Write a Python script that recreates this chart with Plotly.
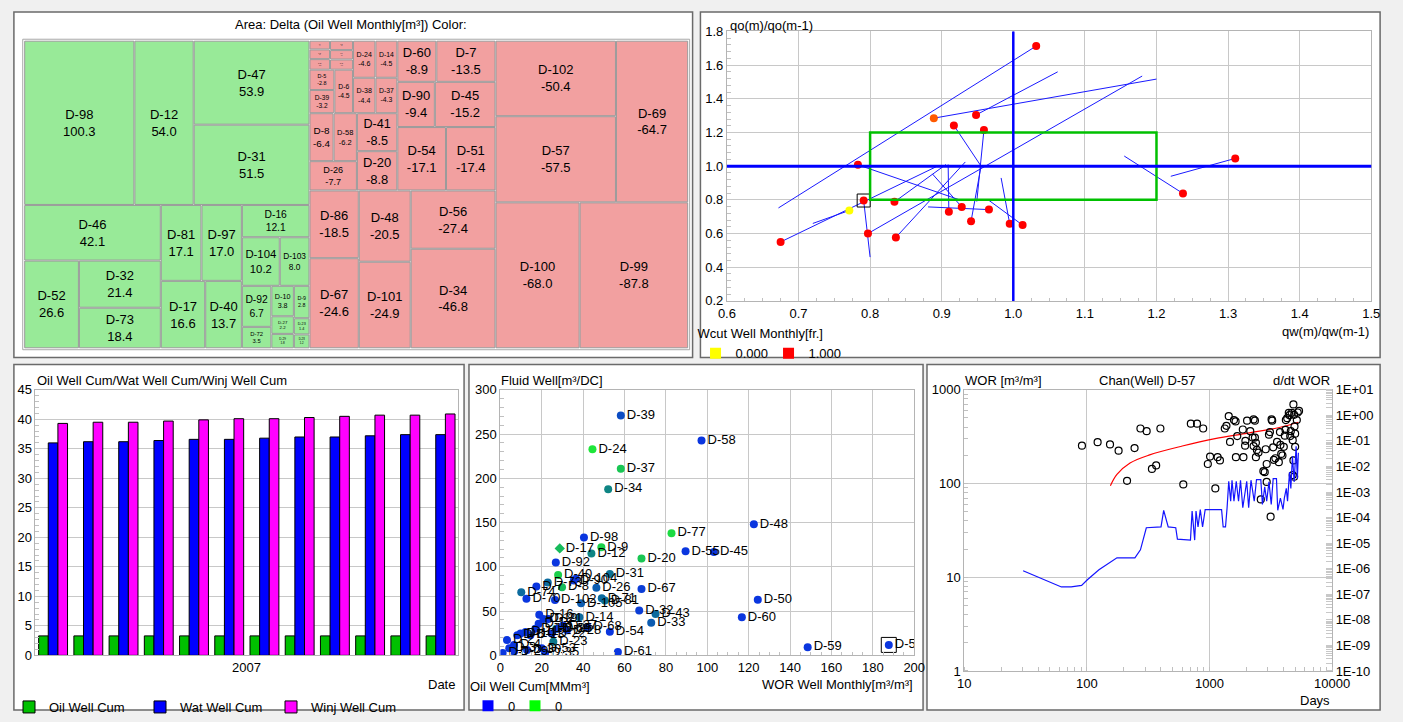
import plotly.graph_objects as go

W, H = 1403, 722
FONT = "Liberation Sans, Arial, sans-serif"


def px(v):
    return v / W


def py(v):
    return 1 - v / H


# ---------------- Treemap (Delta Oil Well Monthly) ----------------
tm_nodes = ["ALL", "POS", "P_top", "D-98", "D-12", "P_c47", "D-47", "D-31",
            "P_bot", "PA", "D-46", "PA2", "D-52", "PA3", "D-32", "D-73",
            "PB", "PB1", "D-81", "D-97", "PB2", "D-17", "D-40",
            "PC", "D-16", "PC2", "D-104", "D-103", "PC3", "PC3a", "D-92", "D-72",
            "PC3b", "D-10", "D-27", "D-29", "PC3c", "D-9", "D-23", "D-28",
            "NEG", "NEGW", "NL", "NL_top", "NLt1", "TC", "TL", "TL1", "TL1a",
            "D-11", "D-13", "D-15", "TL1b", "D-18", "D-19", "D-21", "TL2", "TL2a",
            "D-5", "D-39", "D-6", "TR", "TR1", "D-24", "D-14", "TR2", "D-38", "D-37",
            "NLB", "colL", "rowL1", "D-8", "D-58", "D-26", "colR", "D-41", "D-20",
            "NLt2", "r1", "D-60", "D-7", "r2", "D-90", "D-45", "r3", "D-54", "D-51",
            "NL_bot", "c1", "D-86", "D-67", "c2", "D-48", "D-101", "c3", "D-56", "D-34",
            "NR", "NR_top", "NR_col", "D-102", "D-57", "D-69", "NR_bot", "D-100", "D-99"]
tm_parents = ["", "ALL", "POS", "P_top", "P_top", "P_top", "P_c47", "P_c47",
              "POS", "P_bot", "PA", "PA", "PA2", "PA2", "PA3", "PA3",
              "P_bot", "PB", "PB1", "PB1", "PB", "PB2", "PB2",
              "P_bot", "PC", "PC", "PC2", "PC2", "PC", "PC3", "PC3a", "PC3a",
              "PC3", "PC3b", "PC3b", "PC3b", "PC3", "PC3c", "PC3c", "PC3c",
              "ALL", "NEG", "NEGW", "NL", "NL_top", "NLt1", "TC", "TL", "TL1",
              "TL1a", "TL1a", "TL1a", "TL1", "TL1b", "TL1b", "TL1b", "TL", "TL2",
              "TL2a", "TL2a", "TL2", "TC", "TR", "TR1", "TR1", "TR", "TR2", "TR2",
              "NLt1", "NLB", "colL", "rowL1", "rowL1", "colL", "NLB", "colR", "colR",
              "NL_top", "NLt2", "r1", "r1", "NLt2", "r2", "r2", "NLt2", "r3", "r3",
              "NL", "NL_bot", "c1", "c1", "NL_bot", "c2", "c2", "NL_bot", "c3", "c3",
              "NEGW", "NR", "NR_top", "NR_col", "NR_col", "NR_top", "NR", "NR_bot", "NR_bot"]
tm_delta = [None, None, None, 100.3, 54.0, None, 53.9, 51.5,
            None, None, 42.1, None, 26.6, None, 21.4, 18.4,
            None, None, 17.1, 17.0, None, 16.6, 13.7,
            None, 12.1, None, 10.2, 8.0, None, None, 6.7, 3.5,
            None, 3.8, 2.2, 1.8, None, 2.8, 1.4, 1.2,
            None, None, None, None, None, None, None, None, None,
            -1.0, -1.1, -1.2, None, -1.2, -1.2, -1.3, None, None,
            -2.8, -3.2, -4.5, None, None, -4.6, -4.5, None, -4.4, -4.3,
            None, None, None, -6.4, -6.2, -7.7, None, -8.5, -8.8,
            None, None, -8.9, -13.5, None, -9.4, -15.2, None, -17.1, -17.4,
            None, None, -18.5, -24.6, None, -20.5, -24.9, None, -27.4, -46.8,
            None, None, None, -50.4, -57.5, -64.7, None, -68.0, -87.8]

# ---------------- Top-right: qo ratio vs qw ratio ----------------
tr_qw = [1.032, 0.889, 0.948, 0.917, 0.959, 0.783, 0.791, 0.771, 0.834, 0.797,
         0.836, 0.675, 0.910, 0.928, 0.966, 0.941, 0.995, 1.013, 1.237, 1.310]
tr_qo = [1.713, 1.285, 1.304, 1.242, 1.215, 1.008, 0.796, 0.737, 0.788, 0.600,
         0.577, 0.550, 0.729, 0.758, 0.742, 0.673, 0.658, 0.650, 0.838, 1.046]
tr_qw_prev = [0.672, 1.200, 1.062, 0.955, 0.949, 0.925, 0.800, 0.720, 0.906, 1.180,
              0.933, 0.892, 0.909, 0.887, 0.881, 0.955, 0.983, 0.965, 1.155, 1.220]
tr_qo_prev = [0.752, 1.517, 1.560, 1.000, 0.790, 0.800, 0.460, 0.660, 1.010, 1.535,
              1.025, 0.996, 1.010, 0.954, 0.758, 1.000, 0.930, 0.800, 1.060, 0.940]
tr_wcut = [1.0, 0.65, 1.0, 1.0, 1.0, 1.0, 1.0, 0.0, 1.0, 1.0,
           1.0, 1.0, 1.0, 1.0, 1.0, 1.0, 1.0, 1.0, 1.0, 1.0]
tr_selected = 6
ratio_ref = 1.0
box_lo, box_hi = 0.8, 1.2
wcut_legend = ["0.000", "1.000"]

# ---------------- Bottom-left: cumulative bars ----------------
bar_months = ["Jan", "Feb", "Mar", "Apr", "May", "Jun", "Jul", "Aug", "Sep", "Oct", "Nov", "Dec"]
oil_cum = [3.3, 3.3, 3.3, 3.3, 3.3, 3.3, 3.3, 3.3, 3.3, 3.3, 3.3, 3.3]
wat_cum = [36.0, 36.2, 36.2, 36.4, 36.6, 36.6, 36.8, 37.0, 37.0, 37.2, 37.4, 37.4]
winj_cum = [39.3, 39.5, 39.5, 39.7, 39.9, 40.1, 40.1, 40.3, 40.5, 40.7, 40.7, 40.9]

# ---------------- Bottom-middle: Fluid vs WOR ----------------
bm_wells = ["D-39", "D-58", "D-24", "D-37", "D-34", "D-48", "D-77", "D-98", "D-17", "D-9",
            "D-12", "D-55", "D-45", "D-92", "D-20", "D-31", "D-67", "D-50", "D-60", "D-59",
            "D-5", "D-61", "D-54", "D-33", "D-43", "D-32", "D-26", "D-81", "D-71", "D-105",
            "D-102", "D-70", "D-74", "D-7", "D-73", "D-40", "D-8", "D-90", "D-104", "D-16",
            "D-14", "D-68", "D-69", "D-53", "D-1", "D-2", "D-3", "D-4", "D-6", "D-10",
            "D-11", "D-13", "D-15", "D-18", "D-19", "D-21", "D-22", "D-23", "D-25", "D-27",
            "D-28", "D-29", "D-30", "D-35"]
bm_wor = [58.2, 97.2, 44.5, 58.2, 52.1, 122.5, 82.7, 40.4, 28.7, 48.8,
          44.0, 89.5, 103.2, 26.8, 68.2, 52.9, 68.2, 124.4, 116.7, 148.5,
          187.7, 56.8, 52.9, 72.9, 75.0, 67.1, 46.4, 50.5, 49.0, 39.0,
          26.4, 12.6, 10.1, 17.4, 22.9, 27.9, 29.8, 35.5, 36.5, 18.8,
          38.2, 42.1, 27.0, 20.0, 1.1, 3.2, 4.3, 6.6, 8.2, 9.8,
          12.2, 14.5, 16.9, 18.5, 20.8, 23.2, 24.8, 25.6, 27.9, 30.3,
          32.2, 6.6, 12.9, 21.6]
bm_fluid = [271.0, 242.7, 232.8, 210.8, 187.7, 148.0, 138.0, 133.0, 120.8, 122.0,
            115.0, 117.5, 116.8, 105.0, 109.4, 91.8, 74.9, 62.8, 43.0, 9.2,
            11.8, 3.7, 26.8, 36.7, 46.6, 50.7, 76.4, 62.0, 64.5, 58.8,
            62.4, 64.0, 71.2, 77.9, 82.3, 90.7, 77.0, 84.5, 86.5, 45.9,
            43.0, 32.0, 30.0, 8.0, 2.6, 17.3, 8.1, 11.8, 22.8, 24.6,
            26.4, 22.8, 30.1, 35.6, 41.1, 41.1, 24.6, 15.4, 30.1, 33.8,
            28.3, 4.4, 6.2, 2.6]
bm_cum = [0.2, 0.05, 1.0, 0.85, 0.55, 0.05, 0.95, 0.05, 0.8, 0.9,
          0.55, 0.05, 0.05, 0.05, 0.85, 0.45, 0.1, 0.05, 0.05, 0.05,
          0.05, 0.05, 0.05, 0.3, 0.4, 0.1, 0.3, 0.45, 0.4, 0.3,
          0.05, 0.05, 0.4, 0.05, 0.4, 0.9, 0.8, 0.05, 0.05, 0.05,
          0.4, 0.1, 0.5, 0.05, 0.05, 0.05, 0.05, 0.05, 0.05, 0.05,
          0.05, 0.05, 0.05, 0.05, 0.05, 0.05, 0.05, 0.5, 0.05, 0.05,
          0.05, 0.05, 0.05, 0.05]
bm_selected = "D-5"
bm_legend = ["0", "0"]

# ---------------- Bottom-right: Chan plot D-57 ----------------
wor_days = [91.2, 122.4, 154.5, 181.5, 212.8, 245, 273.6, 307.5, 398, 339.5,
            367.6, 612, 705, 792, 889, 970, 1012, 1117, 1166, 1218,
            1334, 1376, 1437, 1472, 1585, 1634, 1644, 1686, 1871, 1893,
            1953, 1965, 2027, 2153, 2291, 2349, 2249, 2349, 2393, 2291,
            2438, 2512, 2393, 2754, 2825, 2624, 2877, 2931, 2931, 3058,
            3114, 3155, 3212, 3250, 3311, 3350, 3450, 3560, 3680, 3760,
            3790, 3850, 3940, 4040, 4120, 4170, 4200, 4310, 4440, 4500,
            4560, 4610, 4690, 4780, 4840, 4910, 4940, 5000, 4840, 4780,
            4910, 5160, 5250, 5380, 5000]
wor_vals = [253, 276, 261, 224, 106.7, 239, 386, 362, 386, 143,
            156, 97.7, 435, 435, 386, 161.5, 194, 88.7, 191, 176.5,
            386, 412, 523, 278, 475, 460, 191, 321, 377, 191,
            253, 285, 468, 362, 483, 468, 309, 309, 272, 251,
            228, 214, 191, 135.5, 132, 67.6, 232, 161.5, 104, 332,
            354, 44.3, 483, 468, 243, 179, 186, 278, 169, 354,
            258, 207, 199, 246, 324, 374, 475, 498, 567, 536,
            321, 362, 567, 290, 698, 540, 406, 246, 176.5, 123,
            118, 475, 572, 595, 340]
trend_days = [155.6, 176, 225, 325, 601, 1110, 2051, 3790, 5312]
trend_vals = [94.6, 125, 165.5, 202, 251, 301, 345, 398, 450]
deriv_days = [30.2, 62, 74.5, 90.6, 101, 125.5, 176, 246.6, 273.6, 305.6,
              402.7, 423.4, 461, 531, 548, 700, 722, 758, 777, 807,
              842, 879, 923, 1256, 1294, 1352, 1393, 1437, 1490, 1528,
              1585, 1655, 1727, 1792, 1871, 1928, 2014, 2089, 2182, 2319,
              2421, 2624, 2705, 2825, 2931, 3058, 3192, 3311, 3521, 3606,
              3790, 3981, 4083, 4236, 4335, 4497, 4613, 4753, 4909, 5093,
              5213, 5312]
deriv_vals = [8.3e-7, 1.94e-7, 1.94e-7, 2.24e-7, 3.7e-7, 9.1e-7, 2.66e-6, 2.66e-6, 5.5e-6, 4.0e-5,
              4.3e-5, 1.92e-4, 4.3e-5, 4.0e-5, 1.44e-5, 1.32e-5, 1.82e-4, 1.32e-5, 1.82e-4, 4.3e-5,
              2.04e-4, 4.3e-5, 2.04e-4, 2.04e-4, 4.3e-5, 4.3e-5, 2.43e-4, 2.64e-3, 4.36e-4, 2.9e-3,
              4.36e-4, 2.64e-3, 4.36e-4, 2.9e-3, 2.43e-4, 7.8e-4, 2.64e-3, 2.43e-4, 2.9e-3, 4.36e-4,
              3.05e-3, 3.05e-3, 3.24e-4, 1.6e-3, 4.36e-4, 2.5e-3, 3.24e-4, 3.33e-3, 3.33e-3, 1.92e-4,
              5.8e-4, 2.1e-4, 5.8e-4, 1.39e-3, 4.36e-4, 5.97e-3, 1.39e-3, 2.57e-2, 2.5e-3, 6.1e-2,
              3.33e-3, 3.42e-2]
days_tick_vals = [10, 100, 1000, 10000]
days_tick_text = ["10", "100", "1000", "10000"]
wor_tick_vals = [1, 10, 100, 1000]
wor_tick_text = ["1", "10", "100", "1000"]
right_tick_vals = [1e1, 1e0, 1e-1, 1e-2, 1e-3, 1e-4, 1e-5, 1e-6, 1e-7, 1e-8, 1e-9, 1e-10]
right_tick_text = ["1E+01", "1E+00", "1E-01", "1E-02", "1E-03", "1E-04",
                   "1E-05", "1E-06", "1E-07", "1E-08", "1E-09", "1E-10"]

# ================= build figure =================
fig = go.Figure()

# treemap
tm_labels, tm_values, tm_colors, tm_lw, tm_tt, tm_text = [], [], [], [], [], []
for node, d in zip(tm_nodes, tm_delta):
    if d is None:
        tm_labels.append("")
        tm_values.append(0)
        tm_colors.append("#ffffff")
        tm_lw.append(0)
        tm_tt.append("")
        tm_text.append("")
    else:
        tm_labels.append(node)
        tm_values.append(abs(d))
        tm_colors.append("#98ea98" if d > 0 else "#f2a0a0")
        tm_lw.append(1)
        tm_tt.append("%{label}<br>%{text}")
        tm_text.append(f"{d:.1f}")

fig.add_trace(go.Treemap(
    ids=tm_nodes, labels=tm_labels, parents=tm_parents, values=tm_values,
    text=tm_text, texttemplate=tm_tt, branchvalues="remainder", sort=False,
    tiling=dict(packing="slice-dice", pad=1),
    marker=dict(colors=tm_colors, line=dict(width=tm_lw, color="#9a9a9a"),
                pad=dict(t=0, l=0, r=0, b=0), depthfade=False),
    pathbar=dict(visible=False),
    textposition="middle center",
    textfont=dict(family=FONT, size=13, color="#000000"),
    domain=dict(x=[px(16), px(692)], y=[py(349), py(35)]),
    hoverinfo="skip",
))

# top-right segments
seg_x, seg_y = [], []
for a, b, c, d in zip(tr_qw_prev, tr_qo_prev, tr_qw, tr_qo):
    seg_x += [a, c, None]
    seg_y += [b, d, None]
fig.add_trace(go.Scatter(x=seg_x, y=seg_y, mode="lines", line=dict(color="#1a1aff", width=1),
                         xaxis="x", yaxis="y", showlegend=False, hoverinfo="skip"))
fig.add_trace(go.Scatter(x=tr_qw, y=tr_qo, mode="markers",
                         marker=dict(size=8, color=tr_wcut, cmin=0, cmax=1,
                                     colorscale=[[0, "#ffff00"], [1, "#ff0000"]]),
                         xaxis="x", yaxis="y", showlegend=False, hoverinfo="skip"))
fig.add_trace(go.Scatter(x=[tr_qw[tr_selected]], y=[tr_qo[tr_selected]], mode="markers",
                         marker=dict(size=13, symbol="square-open", color="#000000", line=dict(width=1)),
                         xaxis="x", yaxis="y", showlegend=False, hoverinfo="skip"))
for name, col in zip(wcut_legend, ["#ffff00", "#ff0000"]):
    fig.add_trace(go.Scatter(x=[None], y=[None], mode="markers", name=name,
                             marker=dict(symbol="square", size=11, color=col),
                             xaxis="x", yaxis="y", legend="legend"))

# bottom-left bars
for name, vals, col in [("Oil Well Cum", oil_cum, "#00c000"),
                        ("Wat Well Cum", wat_cum, "#0000ff"),
                        ("Winj Well Cum", winj_cum, "#ff00ff")]:
    fig.add_trace(go.Bar(x=bar_months, y=vals, name=name, marker=dict(color=col, line=dict(color="#000000", width=1)),
                         xaxis="x2", yaxis="y2", legend="legend2", hoverinfo="skip"))

# bottom-middle scatter
bm_symbols = ["diamond" if w == "D-17" else "circle" for w in bm_wells]
fig.add_trace(go.Scatter(x=bm_wor, y=bm_fluid, text=bm_wells, mode="markers+text",
                         textposition="middle right",
                         textfont=dict(family=FONT, size=13, color="#000000"),
                         marker=dict(size=8, symbol=bm_symbols, color=bm_cum, cmin=0, cmax=1,
                                     colorscale=[[0, "#0a2ee8"], [0.5, "#0d7a8c"], [1, "#1ee63a"]]),
                         xaxis="x3", yaxis="y3", showlegend=False, hoverinfo="skip"))
si = bm_wells.index(bm_selected)
fig.add_trace(go.Scatter(x=[bm_wor[si]], y=[bm_fluid[si]], mode="markers",
                         marker=dict(size=15, symbol="square-open", color="#000000", line=dict(width=1)),
                         xaxis="x3", yaxis="y3", showlegend=False, hoverinfo="skip"))
for name, col in zip(bm_legend, ["#0000ff", "#00ff00"]):
    fig.add_trace(go.Scatter(x=[None], y=[None], mode="markers", name=name,
                             marker=dict(symbol="square", size=11, color=col),
                             xaxis="x3", yaxis="y3", legend="legend3"))

# bottom-right Chan plot
fig.add_trace(go.Scatter(x=deriv_days, y=deriv_vals, mode="lines", line=dict(color="#1414ff", width=1.2),
                         xaxis="x4", yaxis="y5", showlegend=False, hoverinfo="skip"))
fig.add_trace(go.Scatter(x=trend_days, y=trend_vals, mode="lines", line=dict(color="#ff0000", width=1.2, shape="spline"),
                         xaxis="x4", yaxis="y4", showlegend=False, hoverinfo="skip"))
fig.add_trace(go.Scatter(x=wor_days, y=wor_vals, mode="markers",
                         marker=dict(symbol="circle-open", size=7, color="#000000", line=dict(width=1.2)),
                         xaxis="x4", yaxis="y4", showlegend=False, hoverinfo="skip"))

# ---------------- axes ----------------
tickfont = dict(family=FONT, size=13, color="#000000")
grid = "#c8c8c8"
frame = "#b4b4b4"
minor_col = "#c0c0c0"


def lin_axis(**kw):
    base = dict(showgrid=True, gridcolor=grid, gridwidth=1, zeroline=False, showline=True, mirror=True,
                linecolor=frame, linewidth=1, ticks="", tickfont=tickfont, fixedrange=True)
    base.update(kw)
    return base


layout_axes = dict(
    xaxis=lin_axis(domain=[px(732), px(1389)], range=[0.6, 1.5], dtick=0.1, tickformat=".1f", anchor="y",
                   minor=dict(ticks="inside", dtick=0.025, ticklen=3, tickcolor=minor_col, showgrid=False)),
    yaxis=lin_axis(domain=[py(301), py(25)], range=[0.2, 1.8], dtick=0.2, tickformat=".1f", anchor="x",
                   minor=dict(ticks="inside", dtick=0.04, ticklen=4, tickcolor=minor_col, showgrid=False)),
    xaxis2=lin_axis(domain=[px(27), px(458)], range=[-0.5, 11.5], showticklabels=False, showgrid=False,
                    anchor="y2", type="category"),
    yaxis2=lin_axis(domain=[py(664), py(392)], range=[0, 45], dtick=5, anchor="x2",
                    minor=dict(ticks="inside", dtick=1, ticklen=4, tickcolor=minor_col, showgrid=False)),
    xaxis3=lin_axis(domain=[px(501), px(923)], range=[0, 200], dtick=20, anchor="y3",
                    minor=dict(ticks="inside", dtick=5, ticklen=3, tickcolor=minor_col, showgrid=False)),
    yaxis3=lin_axis(domain=[py(664), py(392)], range=[0, 300], dtick=50, anchor="x3",
                    minor=dict(ticks="inside", dtick=10, ticklen=4, tickcolor=minor_col, showgrid=False)),
    xaxis4=lin_axis(domain=[px(974), px(1349)], type="log", range=[1, 4],
                    tickmode="array", tickvals=days_tick_vals, ticktext=days_tick_text, anchor="y4",
                    minor=dict(ticks="inside", dtick="D1", ticklen=4, tickcolor=minor_col, showgrid=False)),
    yaxis4=lin_axis(domain=[py(680), py(392)], type="log", range=[0, 3],
                    tickmode="array", tickvals=wor_tick_vals, ticktext=wor_tick_text,
                    anchor="x4", mirror=False,
                    minor=dict(ticks="inside", dtick="D1", ticklen=4, tickcolor=minor_col, showgrid=False)),
    yaxis5=dict(overlaying="y4", side="right", anchor="x4", type="log", range=[-10, 1],
                tickmode="array", tickvals=right_tick_vals, ticktext=right_tick_text,
                showgrid=False, zeroline=False, showline=True, linecolor=frame, ticks="",
                tickfont=tickfont, fixedrange=True,
                minor=dict(ticks="inside", dtick="D1", ticklen=6, tickcolor="#c8c8c8", showgrid=False)),
)

# ---------------- shapes ----------------
shapes = []
for (x0, y0, x1, y1) in [(5, 5, 697, 359), (705, 5, 1398, 359), (5, 366, 464, 720),
                         (469, 366, 932, 720), (936, 366, 1398, 720)]:
    shapes.append(dict(type="rect", xref="paper", yref="paper", x0=px(x0), x1=px(x1), y0=py(y1), y1=py(y0),
                       fillcolor="#ffffff", line=dict(color="#6a6a6a", width=1.5), layer="below"))
shapes.append(dict(type="rect", xref="paper", yref="paper", x0=px(14), x1=px(694), y0=py(351), y1=py(33),
                   fillcolor="rgba(0,0,0,0)", line=dict(color="#a8a8a8", width=1), layer="below"))
shapes.append(dict(type="rect", xref="x", yref="y", x0=box_lo, x1=box_hi, y0=box_lo, y1=box_hi,
                   line=dict(color="#00c000", width=2.5), layer="above"))
shapes.append(dict(type="line", xref="x domain", yref="y", x0=0, x1=1, y0=ratio_ref, y1=ratio_ref,
                   line=dict(color="#0000ff", width=3), layer="above"))
shapes.append(dict(type="line", xref="x", yref="y domain", x0=ratio_ref, x1=ratio_ref, y0=0, y1=1,
                   line=dict(color="#0000ff", width=2.5), layer="above"))


# ---------------- annotations ----------------
def ann(text, x, y, xanchor="left", xref="paper"):
    return dict(text=text, x=x, y=py(y), xref=xref, yref="paper", xanchor=xanchor, yanchor="middle",
                showarrow=False, font=dict(family=FONT, size=13, color="#000000"))


annotations = [
    ann("Area: Delta (Oil Well Monthly[m³]) Color:", px(349), 18, "center"),
    ann("qo(m)/qo(m-1)", px(733), 19),
    ann("qw(m)/qw(m-1)", px(1389), 332, "right"),
    ann("Oil Well Cum/Wat Well Cum/Winj Well Cum", px(27), 382),
    ann("2007", 5.5, 676, "center", xref="x2"),
    ann("Date", px(457), 694, "right"),
    ann("Fluid Well[m³/DC]", px(500), 382),
    ann("WOR Well Monthly[m³/m³]", px(924), 694, "right"),
    ann("WOR [m³/m³]", px(973), 382),
    ann("Chan(Well) D-57", px(1161), 382, "center"),
    ann("d/dt WOR", px(1349), 382, "right"),
    ann("Days", px(1349), 710, "right"),
]

legend_font = dict(family=FONT, size=13, color="#000000")
fig.update_layout(
    width=W, height=H, margin=dict(l=0, r=0, t=0, b=0),
    paper_bgcolor="#f0f0f0", plot_bgcolor="#ffffff",
    font=dict(family=FONT, size=13, color="#000000"),
    barmode="group", bargap=0.18, bargroupgap=0,
    hovermode=False,
    shapes=shapes, annotations=annotations,
    legend=dict(title=dict(text="Wcut Well Monthly[fr.]", side="top", font=legend_font),
                orientation="h", x=px(700), y=py(322), xanchor="left", yanchor="top",
                bgcolor="rgba(0,0,0,0)", font=legend_font, itemwidth=30, tracegroupgap=0,
                entrywidth=28, entrywidthmode="pixels"),
    legend2=dict(orientation="h", x=px(0), y=py(702), xanchor="left", yanchor="top",
                 bgcolor="rgba(0,0,0,0)", font=legend_font, itemwidth=30,
                 entrywidth=86, entrywidthmode="pixels"),
    legend3=dict(title=dict(text="Oil Well Cum[MMm³]", side="top", font=legend_font),
                 orientation="h", x=px(468), y=py(683), xanchor="left", yanchor="top",
                 bgcolor="rgba(0,0,0,0)", font=legend_font, itemwidth=30,
                 entrywidth=2, entrywidthmode="pixels"),
    **layout_axes,
)

fig.write_html(
    "out.html", config={"displayModeBar": False},
    post_script=("document.documentElement.style.overflow='hidden';"
                 "document.body.style.margin='0';"
                 "document.body.style.overflow='hidden';"),
)
